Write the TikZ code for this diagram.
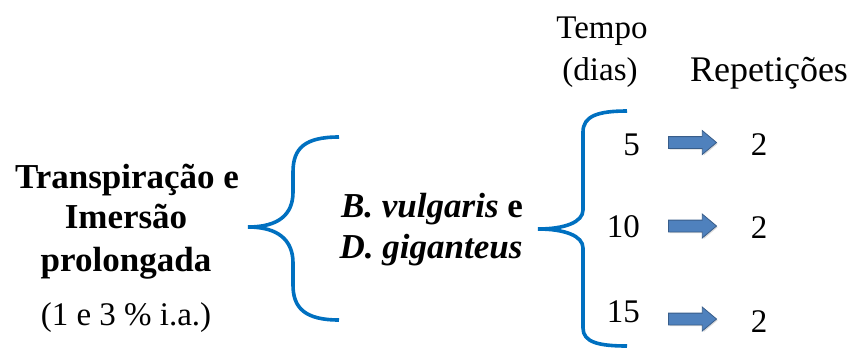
\documentclass[tikz,border=0pt]{standalone}
\usepackage{fontspec}
\setmainfont{Liberation Serif}
\usetikzlibrary{arrows.meta, positioning, shapes.arrows, shadows}
\definecolor{braceblue}{RGB}{0,112,192}
\definecolor{arrfill}{RGB}{79,129,189}
\definecolor{arrdraw}{RGB}{56,93,138}

\begin{document}
\begin{tikzpicture}[
    x=1pt, y=-1pt,
    txt/.style={font=\fontsize{33}{38}\selectfont, inner sep=0pt, anchor=base},
    bold/.style={txt, font=\fontsize{35}{40}\selectfont\bfseries},
    brace/.style={draw=braceblue, line width=3.6pt},
    blockarr/.style={single arrow, draw=arrdraw, fill=arrfill, line width=0.8pt,
                     minimum height=48pt, minimum width=23pt, inner xsep=0pt, inner ysep=5.5pt,
                     single arrow head extend=6pt, single arrow tip angle=80,
                     drop shadow={shadow xshift=1.2pt, shadow yshift=-1.2pt, opacity=0.3}}
]
\useasboundingbox (0,0) rectangle (855,349);

% treatment
\node[bold] (trat1) at (127,188) {Transpiração e};
\node[bold] (trat2) at (126,228) {Imersão};
\node[bold] (trat3) at (126,271) {prolongada};
\node[txt]  (dose)  at (126,325) {(1 e 3 \% i.a.)};

% species
\node[bold] (sp1) at (432,217) {\itshape B. vulgaris\upshape{} e};
\node[bold] (sp2) at (431,258) {\itshape D. giganteus};

% headers
\node[txt] (tempo) at (602,38) {Tempo};
\node[txt] (dias)  at (600,80) {(dias)};
\node[txt, font=\fontsize{36}{40}\selectfont] (rep) at (769,81) {Repetições};

% braces
\coordinate (b1top) at (339,137);
\coordinate (b1tip) at (248,227);
\coordinate (b1bot) at (339,320);
\draw[brace] (b1top) .. controls (305,137) and (293,148) .. (293,172) -- (293,192)
    .. controls (293,215) and (278,227) .. (b1tip)
    .. controls (278,227) and (293,240) .. (293,263) -- (293,285)
    .. controls (293,308) and (305,320) .. (b1bot);

\coordinate (b2top) at (627,111);
\coordinate (b2tip) at (538,229);
\coordinate (b2bot) at (627,346);
\draw[brace] (b2top) .. controls (598,111) and (583,116) .. (583,132) -- (583,210)
    .. controls (583,222) and (565,229) .. (b2tip)
    .. controls (565,229) and (583,236) .. (583,248) -- (583,328)
    .. controls (583,342) and (598,346) .. (b2bot);

% days -> repetitions
\node[txt, anchor=base east] (d5)  at (640,155) {5};
\node[txt, anchor=base east] (d10) at (640,237) {10};
\node[txt, anchor=base east] (d15) at (640,322) {15};

\node[blockarr] (a5)  at (689,142.5) {};
\node[blockarr] (a10) at (689,226) {};
\node[blockarr] (a15) at (689,319) {};

\node[txt] (r5)  at (759,155) {2};
\node[txt] (r10) at (759,238) {2};
\node[txt] (r15) at (759,332) {2};
\end{tikzpicture}
\end{document}
